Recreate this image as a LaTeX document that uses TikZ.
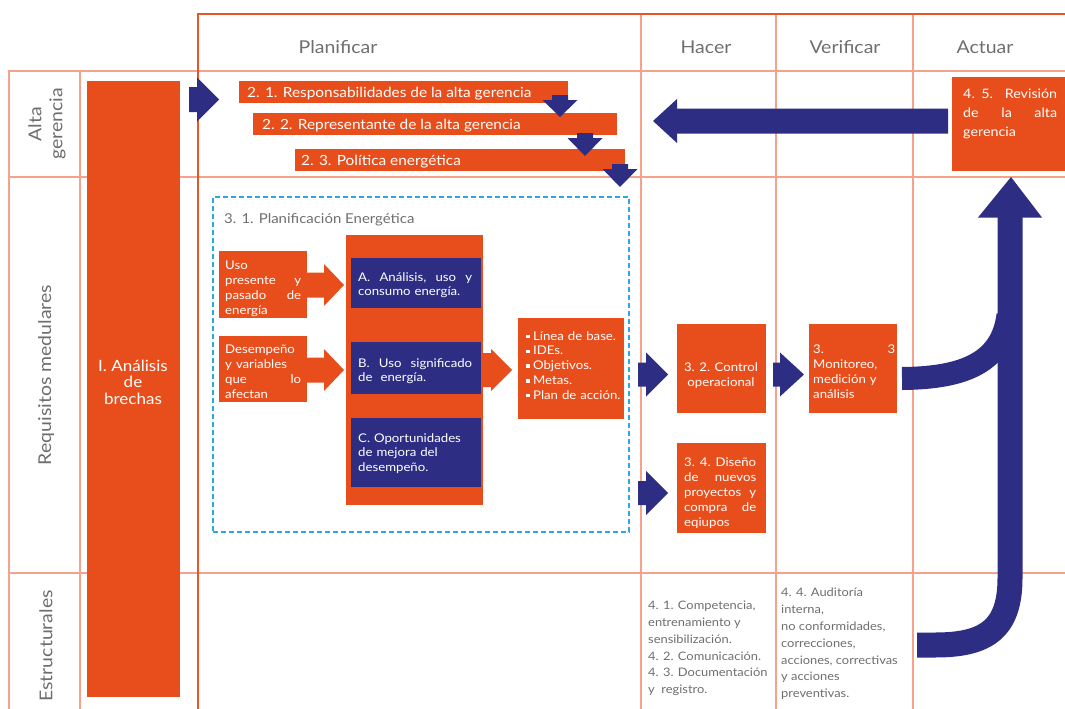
\documentclass[tikz,border=0pt]{standalone}
\usepackage{fontspec}
\setmainfont{Lato}[FakeStretch=1.1]
\usetikzlibrary{calc}
\definecolor{org}{HTML}{E84E1B}
\definecolor{navy}{HTML}{2D2E83}
\definecolor{gridc}{HTML}{F4A38A}
\definecolor{framec}{HTML}{E9552B}
\definecolor{txtgray}{HTML}{6D6E71}
\definecolor{dashc}{HTML}{29ABE2}
\hyphenpenalty=10000
\exhyphenpenalty=10000
\newcommand\myharrow[7]{\fill[#1] (#2,{#3-#6}) -- (#4,{#3-#6}) -- (#4,{#3-#7}) -- (#5,#3) -- (#4,{#3+#7}) -- (#4,{#3+#6}) -- (#2,{#3+#6}) -- cycle;}
\newcommand\myvarrow[7]{\fill[#1] ({#2-#6},#3) -- ({#2-#6},#4) -- ({#2-#7},#4) -- (#2,#5) -- ({#2+#7},#4) -- ({#2+#6},#4) -- ({#2+#6},#3) -- cycle;}
\newcommand\sqb{\raisebox{1.8pt}{\rule{3.4pt}{3.4pt}}\hspace{3.5pt}}
\tikzset{
  gridline/.style={draw=gridc, line width=1.3pt},
  frameline/.style={draw=framec, line width=2pt},
  obox/.style={fill=org, inner sep=0pt},
  bbox/.style={fill=navy, inner sep=0pt},
  wtext/.style={text=white, font=\fontsize{12}{14.8}\selectfont, inner sep=0pt, align=left, anchor=north west},
  bartext/.style={text=white, font=\fontsize{14}{16}\selectfont, inner sep=0pt, anchor=west},
  head/.style={text=txtgray, font=\fontsize{17.7}{21}\selectfont, inner sep=0pt},
  gtext/.style={text=txtgray, font=\fontsize{11.7}{16.8}\selectfont, inner sep=0pt, align=left, anchor=north west},
}
\begin{document}
\begin{tikzpicture}[x=1pt,y=-1pt]
\useasboundingbox (0,0) rectangle (1065,709);
% grid
\draw[gridline] (8,71) -- (1065,71);
\draw[gridline] (8,177) -- (1065,177);
\draw[gridline] (8,573) -- (1065,573);
\draw[gridline] (9,71) -- (9,709);
\draw[gridline] (80,71) -- (80,709);
\draw[gridline] (641,14) -- (641,709);
\draw[gridline] (776,14) -- (776,709);
\draw[gridline] (913,14) -- (913,709);
\draw[frameline] (198,709) -- (198,14) -- (1065,14);
% headers
\node[head] (hplan) at (338,47) {Planificar};
\node[head] (hhacer) at (706,47) {Hacer};
\node[head] (hverif) at (845,47) {Verificar};
\node[head] (hact) at (985,47) {Actuar};
\node[head, rotate=90, align=center] (ralta) at (47,124) {Alta\\gerencia};
\node[head, rotate=90] (rreq) at (46,375) {Requisitos medulares};
\node[head, rotate=90] (rest) at (46,646) {Estructurales};
% left column
\node[obox, minimum width=93pt, minimum height=616pt] (brechas) at (133.5,389) {};
\node[text=white, font=\fontsize{15.5}{16.5}\selectfont, align=center, inner sep=0pt] (brechast) at (133,382) {I. Análisis\\de\\brechas};
% bars
\node[obox, minimum width=329pt, minimum height=22pt] (b21) at (403.5,92) {};
\node[bartext] (b21t) at (247,94) {2. 1. Responsabilidades de la alta gerencia};
\node[obox, minimum width=364pt, minimum height=22pt] (b22) at (435,124) {};
\node[bartext] (b22t) at (262,126) {2. 2. Representante de la alta gerencia};
\node[obox, minimum width=330pt, minimum height=22pt] (b23) at (460,160) {};
\node[bartext] (b23t) at (301,162) {2. 3. Política energética};
% 4.5 box
\node[obox, minimum width=113pt, minimum height=94pt] (b45) at (1008.5,124) {};
\node[wtext, font=\fontsize{13}{19}\selectfont, text width=94pt] (b45t) at (963,89) {4. 5.\hfill Revisión\\de\hfill la\hfill alta\\gerencia};
% dashed planning box
\node[draw=dashc, line width=1.4pt, dash pattern=on 5pt off 3pt, minimum width=416pt, minimum height=335pt, inner sep=0pt] (plan) at (421,364.5) {};
\node[text=txtgray, font=\fontsize{13.6}{15}\selectfont, inner sep=0pt, anchor=west] (plant) at (224,220) {3. 1. Planificación Energética};
% input boxes
\node[obox, minimum width=88pt, minimum height=67pt] (uso) at (263,284.5) {};
\node[wtext, text width=76pt] (usot) at (225,261) {Uso\\presente\hfill y\\pasado\hfill de\\energía};
\node[obox, minimum width=88pt, minimum height=66pt] (des) at (263,369) {};
\node[wtext, text width=76pt] (dest) at (225,345) {Desempeño\\y variables\\que\hfill lo\\afectan};
% central box
\node[obox, minimum width=137pt, minimum height=270pt] (cen) at (414.5,370) {};
\node[bbox, minimum width=130pt, minimum height=50pt] (ba) at (416,283) {};
\node[wtext, text width=114pt] (bat) at (358,272) {A.\hfill Análisis,\hfill uso\hfill y\\consumo energía.};
\node[bbox, minimum width=130pt, minimum height=52pt] (bb) at (416,368) {};
\node[wtext, text width=114pt] (bbt) at (358,358) {B.\hfill Uso\hfill significado\\de\ \ energía.};
\node[bbox, minimum width=130pt, minimum height=69pt] (bc) at (416,452.5) {};
\node[wtext, text width=114pt] (bct) at (358,433) {C. Oportunidades\\de mejora del\\desempeño.};
% bullet box
\node[obox, minimum width=106pt, minimum height=101pt] (bul) at (571,368.5) {};
\node[wtext, text width=98pt] (bult) at (526,331) {\sqb Línea de base.\\\sqb IDEs.\\\sqb Objetivos.\\\sqb Metas.\\\sqb Plan de acción.};
% hacer / verificar boxes
\node[obox, minimum width=89pt, minimum height=89pt] (b32) at (721.5,368.5) {};
\node[text=white, font=\fontsize{12}{15}\selectfont, align=center, inner sep=0pt] (b32t) at (721,376) {3. 2. Control\\operacional};
\node[obox, minimum width=89pt, minimum height=90pt] (b34) at (721.5,488) {};
\node[wtext, text width=72pt] (b34t) at (684,458) {3.\hfill 4.\hfill Diseño\\de\hfill nuevos\\proyectos\hfill y\\compra\hfill de\\eqiupos};
\node[obox, minimum width=88pt, minimum height=89pt] (b33) at (853,368.5) {};
\node[wtext, text width=82pt] (b33t) at (813,345) {3.\hfill 3\\Monitoreo,\\medición y\\análisis};
% bottom texts
\node[gtext] (t41) at (648,601) {4. 1. Competencia,\\entrenamiento y\\sensibilización.\\4. 2. Comunicación.\\4. 3. Documentación\\y\ \ registro.};
\node[gtext] (t44) at (781,588) {4. 4. Auditoría\\interna,\\no conformidades,\\correcciones,\\acciones, correctivas\\y acciones\\preventivas.};
% block arrows
\myharrow{navy}{189}{99.5}{197}{219}{12.5}{22}
\myharrow{navy}{948}{121}{677}{653}{12.5}{22}
\myvarrow{navy}{560}{95}{100}{117}{8}{17.5}
\myvarrow{navy}{585}{133}{138}{156}{8}{17.5}
\myvarrow{navy}{620}{164}{169}{187}{8}{17.5}
\myharrow{org}{307}{285}{324}{344}{12.5}{21}
\myharrow{org}{307}{370}{324}{344}{12.5}{21}
\myharrow{org}{483}{370}{491}{512}{17}{21}
\myharrow{navy}{638}{374.5}{646}{668}{12}{22}
\myharrow{navy}{638}{493}{646}{668}{12}{22}
\myharrow{navy}{773}{374.5}{780}{804}{12}{22}
% big curved arrow
\coordinate (jtop) at (1010,216);
\coordinate (jend) at (917,645);
\coordinate (brs) at (902,378.5);
\draw[navy, line width=25pt] (jtop) -- (1010,578) .. controls (1010,630) and (985,645) .. (935,645) -- (jend);
\draw[navy, line width=23pt] (brs) .. controls (965,378) and (1002,362) .. (1008,315);
\fill[navy] (978,217.5) -- (1042,217.5) -- (1011,177) -- cycle;
\end{tikzpicture}
\end{document}
